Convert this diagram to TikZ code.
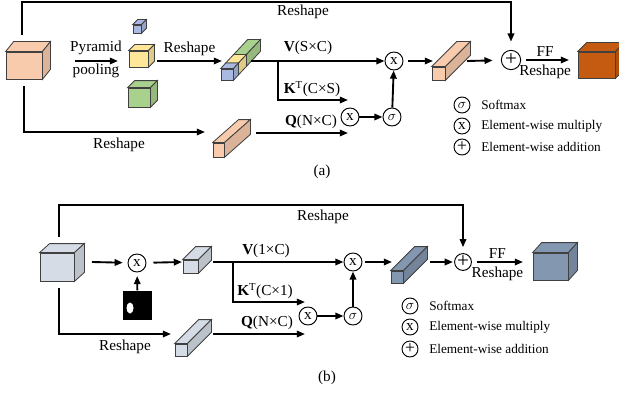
\documentclass[tikz,border=0pt]{standalone}
\usepackage{fontspec}
\setmainfont{Liberation Serif}
\usetikzlibrary{arrows.meta, positioning, calc}

\definecolor{peach}{HTML}{F8CBAD}
\definecolor{rust}{HTML}{C55A11}
\definecolor{lblue}{HTML}{A9B9E2}
\definecolor{lyellow}{HTML}{FFE699}
\definecolor{lgreen}{HTML}{A9D18E}
\definecolor{lgray}{HTML}{D6DCE5}
\definecolor{slate}{HTML}{8497B0}

% box with its top and right faces: name, front centre, width, height, depth, colour
\newcommand{\cuboid}[6]{%
	\node[face, fill=#6, minimum width=#3*0.03cm, minimum height=#4*0.03cm, inner sep=0pt] (#1) at (#2) {};
	\draw[face, fill=#6] (#1.north west) -- ++(#5) -- ($(#1.north east)+(#5)$) -- (#1.north east) -- cycle;
	\draw[face, fill=#6!88!black] (#1.north east) -- ++(#5) -- ($(#1.south east)+(#5)$) -- (#1.south east) -- cycle;
}

\begin{document}
\begin{tikzpicture}[
	x=0.03cm, y=-0.03cm,
	every node/.style={font=\fontsize{13}{16}\selectfont},
	face/.style={draw=black!75, line width=0.7pt},
	arrow/.style={-{Triangle[length=7pt, width=5.5pt]}, line width=1.6pt},
	op/.style={circle, draw, line width=0.8pt, minimum size=0.54cm, inner sep=0pt},
	addop/.style={op, minimum size=0.58cm, font=\fontsize{18}{18}\selectfont},
	key/.style={circle, draw, line width=0.8pt, minimum size=0.48cm, inner sep=0pt},
	keytext/.style={right=0.2cm of #1, font=\fontsize{11.3}{13}\selectfont}
	]
	\useasboundingbox (0,0) rectangle (619,395);
	
	% ---------- (a) ----------
	\cuboid{bigA}{24,65.5}{36}{27}{8,-10}{peach}
	\cuboid{blueS}{137,29}{8}{8}{5,-5}{lblue}
	\cuboid{yellowS}{138.5,59}{19}{16}{6,-6}{lyellow}
	\cuboid{greenS}{139,97.5}{22}{19}{7,-7}{lgreen}
	% pooled features in one bar
	\cuboid{stackG}{240,60.5}{12}{11}{14,-15}{lgreen}
	\cuboid{stackY}{232,69}{12}{11}{8,-8.5}{lyellow}
	\cuboid{stackB}{227,74.5}{12}{11}{5,-5.5}{lblue}
	\cuboid{qbarA}{218.5,150}{11}{14}{26,-23}{peach}
	\cuboid{outbarA}{438.5,73.5}{13}{13}{25,-25}{peach}
	\cuboid{outA}{596.5,65}{37}{26}{9,-9}{rust}
	
	\node[op] (mulA) at (394,61) {x};
	\node[op] (mulQA) at (350,117) {x};
	\node[op] (sigA) at (392,117) {$\sigma$};
	\node[addop] (addA) at (511,60) {+};
	
	\coordinate (skipA) at (22,35);
	\coordinate (poolA) at (24,86);
	\coordinate (qinA) at (205,132);
	\coordinate (pyrS) at (75,61);
	\coordinate (pyrE) at (118,61);
	\coordinate (rsS) at (157,61);
	\coordinate (rsE) at (222,61);
	\coordinate (vA) at (251,61);
	\coordinate (kA) at (278,61);
	\coordinate (kendA) at (348,100);
	\coordinate (qA) at (256,133);
	\coordinate (qendA) at (348,133);
	\coordinate (outinA) at (433,61);
	\coordinate (outoutA) at (467,61);
	\coordinate (ffA) at (569,60);
	
	\draw[arrow, shorten >=7pt] (skipA) -- ++(0,-33) -| (addA.north);
	\node (rsTopA) at (303,12) {Reshape};
	\draw[arrow] (poolA) |- (qinA);
	\node (rsQA) at (119,145) {Reshape};
	\draw[arrow] (pyrS) -- (pyrE);
	\node (pyrTop) at (96,48) {Pyramid};
	\node (pyrBot) at (96,71) {pooling};
	\draw[arrow] (rsS) -- node[above] (rsPoolA) {Reshape} (rsE);
	\draw[arrow] (vA) -- (mulA.west);
	\draw[arrow] (kA) |- (kendA);
	\draw[arrow] (qA) -- (qendA);
	\node (vLabA) at (308,48) {\textbf{V}(S×C)};
	\node (kLabA) at (312,89) {\textbf{K}\textsuperscript{T}(C×S)};
	\node (qLabA) at (311,122) {\textbf{Q}(N×C)};
	\draw[arrow] (mulQA) -- (sigA);
	\draw[arrow] (sigA) -- (mulA);
	\draw[arrow, shorten <=4pt] (mulA) -- (outinA);
	\draw[arrow, shorten >=7pt] (outoutA) -- (addA);
	\draw[arrow, shorten <=4pt] (addA) -- node[above, inner sep=2pt] (ffLabA) {FF} node[below, inner sep=3pt] (rsOutA) {Reshape} (ffA);
	
	% legend
	\node[key] (keySigA) at (462,105) {$\sigma$};
	\node[key] (keyMulA) at (462,126) {x};
	\node[key, font=\fontsize{15}{15}\selectfont] (keyAddA) at (462,147) {+};
	\node[keytext=keySigA] {Softmax};
	\node[keytext=keyMulA] {Element-wise multiply};
	\node[keytext=keyAddA] {Element-wise addition};
	\node (capA) at (322,172) {(a)};
	
	% ---------- (b) ----------
	\cuboid{bigB}{57,267}{34}{28}{10,-9}{lgray}
	\cuboid{maskedB}{190.5,266.5}{15}{13}{13,-13}{lgray}
	\cuboid{qbarB}{181,350}{12}{12}{24,-24}{lgray}
	\cuboid{outbarB}{397,277}{12}{12}{24,-24}{slate}
	\cuboid{outB}{550.5,266.5}{35}{27}{9,-10}{slate}
	
	% binary mask
	\node[fill=black, minimum size=29*0.03cm, inner sep=0pt] (maskImg) at (137.5,305) {};
	\fill[white] (130,308) ellipse [x radius=3.5, y radius=5.5];
	
	\node[op] (mulB0) at (137,263) {x};
	\node[op] (mulB) at (353,262) {x};
	\node[op] (mulQB) at (308,316) {x};
	\node[op] (sigB) at (353,316) {$\sigma$};
	\node[addop, minimum size=0.5cm] (addB) at (463,262) {+};
	
	\coordinate (skipB) at (59,237);
	\coordinate (poolB) at (59,288);
	\coordinate (qinB) at (171,334);
	\coordinate (inB) at (92,262);
	\coordinate (maskinB) at (182,262);
	\coordinate (vB) at (213,262);
	\coordinate (kB) at (233,262);
	\coordinate (kendB) at (305,302);
	\coordinate (qB) at (213,334);
	\coordinate (qendB) at (305,334);
	\coordinate (outinB) at (392,262);
	\coordinate (outoutB) at (430,262);
	\coordinate (ffB) at (523,262);
	
	\draw[arrow, shorten >=5pt] (skipB) -- ++(0,-32) -| (addB.north);
	\node (rsTopB) at (323,217) {Reshape};
	\draw[arrow] (poolB) |- (qinB);
	\node (rsQB) at (125,347) {Reshape};
	\draw[arrow, shorten >=4pt] (inB) -- (mulB0);
	\draw[arrow, shorten <=6pt] (mulB0) -- (maskinB);
	\draw[arrow, shorten >=3pt] (maskImg) -- (mulB0);
	\draw[arrow] (vB) -- (mulB);
	\draw[arrow] (kB) |- (kendB);
	\draw[arrow] (qB) -- (qendB);
	\node (vLabB) at (266,251) {\textbf{V}(1×C)};
	\node (kLabB) at (265,291) {\textbf{K}\textsuperscript{T}(C×1)};
	\node (qLabB) at (267,323) {\textbf{Q}(N×C)};
	\draw[arrow] (mulQB) -- (sigB);
	\draw[arrow] (sigB) -- (mulB);
	\draw[arrow, shorten <=2pt] (mulB) -- (outinB);
	\draw[arrow, shorten >=1pt] (outoutB) -- (addB);
	\draw[arrow, shorten <=4pt] (addB) -- node[above, inner sep=2pt] (ffLabB) {FF} node[below, inner sep=3pt] (rsOutB) {Reshape} (ffB);
	
	% legend
	\node[key] (keySigB) at (410,306) {$\sigma$};
	\node[key] (keyMulB) at (410,327) {x};
	\node[key, font=\fontsize{15}{15}\selectfont] (keyAddB) at (410,349) {+};
	\node[keytext=keySigB] {Softmax};
	\node[keytext=keyMulB] {Element-wise multiply};
	\node[keytext=keyAddB] {Element-wise addition};
	\node (capB) at (327,378) {(b)};
\end{tikzpicture}
\end{document}
